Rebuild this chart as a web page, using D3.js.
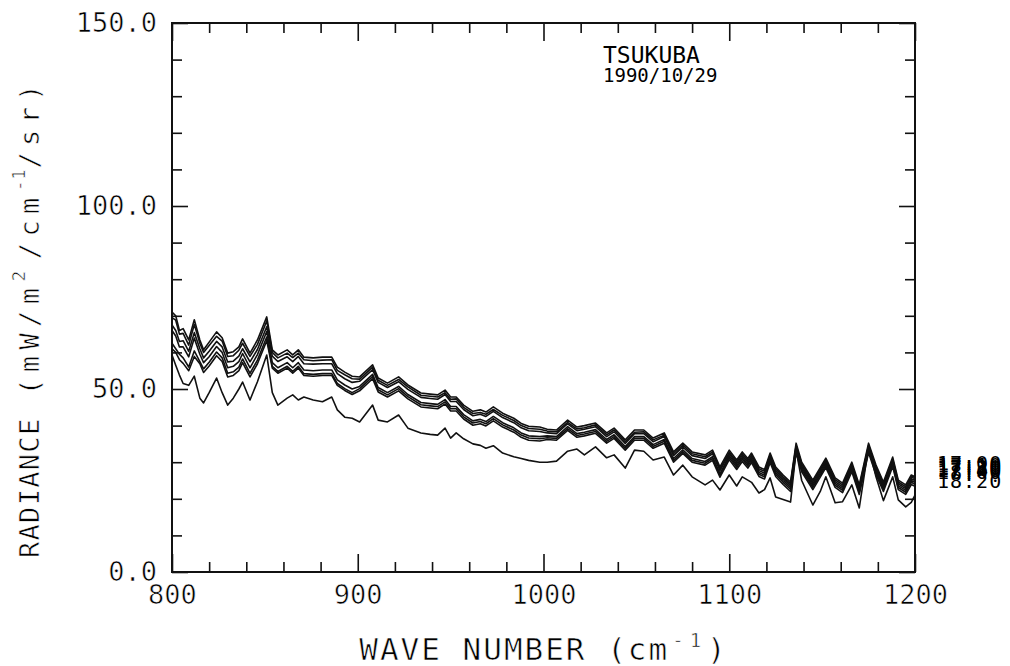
<!DOCTYPE html>
<html>
<head>
<meta charset="utf-8">
<script src="https://cdn.jsdelivr.net/npm/d3@7"></script>
<style>
  body { margin: 0; background: #fff; }
  svg text { font-family: "DejaVu Sans Mono", monospace; fill: #000; }
  /* thin pen-plotter look for the large lettering: a white outline trims the strokes */
  svg text.thin { stroke: #fff; stroke-width: 0.6px; paint-order: fill stroke; }
</style>
</head>
<body>
<svg id="chart" width="1010" height="666"></svg>
<script>
// Wave number grid (cm^-1) shared by every spectrum
const wavenumbers = [
  800, 802, 804, 806, 809, 812, 815, 817, 820, 824,
  827, 830, 833, 836, 838, 842, 846, 851, 854, 857,
  862, 865, 868, 871, 876, 881, 886, 889, 893, 897,
  901, 908, 911, 916, 922, 927, 934, 939, 943, 947,
  950, 953, 957, 962, 966, 969, 973, 978, 984, 988,
  992, 998, 1002, 1007, 1013, 1018, 1022, 1028, 1034, 1038,
  1044, 1049, 1054, 1059, 1065, 1070, 1075, 1080, 1087, 1091,
  1095, 1100, 1104, 1107, 1110, 1112, 1116, 1119, 1122, 1125,
  1129, 1133, 1136, 1139, 1145, 1149, 1152, 1157, 1161, 1166,
  1170, 1175, 1179, 1183, 1188, 1191, 1195, 1198, 1200
];

// Radiance spectra (mW/m^2/cm^-1/sr), one per observation time
const rad1700 = [
  71.0, 70.0, 66.0, 66.5, 63.4, 68.9, 63.4, 60.7, 62.8, 65.6,
  64.0, 59.8, 60.2, 61.5, 63.7, 59.8, 63.4, 69.7, 60.7, 59.3,
  60.7, 59.3, 60.7, 58.7, 58.5, 58.7, 58.7, 56.0, 54.6, 53.5,
  53.3, 56.6, 53.0, 51.6, 53.3, 51.1, 48.9, 48.6, 48.4, 49.7,
  47.8, 47.8, 45.6, 43.9, 44.3, 43.7, 45.1, 43.4, 42.0, 40.6,
  39.8, 39.6, 39.0, 38.8, 41.5, 39.6, 40.0, 40.7, 38.0, 39.3,
  36.1, 38.8, 38.8, 36.6, 38.0, 32.8, 35.2, 32.8, 32.0, 33.3,
  28.7, 33.3, 30.6, 32.8, 31.0, 32.5, 28.7, 28.0, 32.5, 28.7,
  26.5, 24.6, 35.2, 30.0, 25.1, 28.5, 31.1, 25.7, 24.3, 30.0,
  23.8, 35.2, 29.2, 24.6, 31.4, 25.1, 23.8, 26.5, 26.0
];
const rad1710 = [
  69.5, 68.8, 65.0, 65.2, 62.0, 67.6, 62.5, 60.0, 61.9, 64.4,
  63.1, 58.9, 59.1, 60.6, 62.5, 58.9, 62.2, 68.6, 60.0, 58.5,
  59.8, 58.6, 59.8, 58.0, 57.7, 57.9, 58.0, 55.1, 53.9, 52.8,
  52.7, 56.0, 52.4, 51.0, 52.6, 50.6, 48.3, 48.0, 47.8, 49.0,
  47.2, 47.3, 45.0, 43.3, 43.6, 43.1, 44.4, 42.8, 41.4, 40.0,
  39.2, 39.0, 38.5, 38.3, 40.9, 39.1, 39.4, 40.2, 37.5, 38.8,
  35.6, 38.2, 38.3, 36.1, 37.4, 32.3, 34.7, 32.3, 31.5, 32.8,
  28.2, 32.7, 30.1, 32.3, 30.5, 32.0, 28.2, 27.5, 32.0, 28.2,
  26.0, 24.1, 34.6, 29.5, 24.6, 28.0, 30.6, 25.2, 23.8, 29.4,
  23.3, 34.6, 28.7, 24.1, 30.8, 24.6, 23.3, 26.0, 25.5
];
const rad1720 = [
  67.5, 66.0, 63.0, 63.2, 60.3, 65.4, 61.0, 58.5, 60.3, 63.0,
  61.5, 57.4, 57.6, 59.0, 61.0, 57.4, 60.8, 67.0, 59.0, 57.5,
  58.8, 57.5, 58.9, 56.9, 56.8, 56.9, 56.9, 54.2, 52.8, 51.8,
  52.1, 55.3, 51.8, 50.4, 52.0, 49.9, 47.7, 47.4, 47.2, 48.5,
  46.6, 46.6, 44.4, 42.7, 43.1, 42.5, 43.9, 42.2, 40.8, 39.4,
  38.6, 38.4, 38.0, 37.8, 40.5, 38.6, 39.0, 39.7, 37.0, 38.3,
  35.1, 37.8, 37.8, 35.6, 37.0, 31.8, 34.2, 31.8, 31.0, 32.3,
  27.7, 32.3, 29.6, 31.8, 30.0, 31.5, 27.7, 27.0, 31.5, 27.7,
  25.5, 23.6, 34.2, 29.0, 24.1, 27.5, 30.1, 24.7, 23.3, 29.0,
  22.8, 34.2, 28.2, 23.6, 30.4, 24.1, 22.8, 25.5, 25.0
];
const rad1730 = [
  66.0, 64.5, 61.5, 61.5, 58.8, 63.9, 59.5, 57.2, 58.8, 61.6,
  60.0, 55.8, 56.2, 57.5, 59.7, 55.8, 59.4, 65.7, 57.2, 55.8,
  57.2, 55.8, 57.2, 55.2, 55.0, 55.2, 55.2, 52.5, 51.1, 50.0,
  50.7, 54.0, 50.4, 49.0, 50.7, 48.5, 46.3, 46.0, 45.8, 47.1,
  45.2, 45.2, 43.0, 41.3, 41.7, 41.1, 42.5, 40.8, 39.4, 38.0,
  37.2, 37.0, 37.2, 37.0, 39.7, 37.8, 38.2, 38.9, 36.2, 37.5,
  34.3, 37.0, 37.0, 34.8, 36.2, 31.0, 33.4, 31.0, 30.2, 31.5,
  26.9, 31.8, 29.1, 31.3, 29.5, 31.0, 27.2, 26.5, 31.0, 27.2,
  25.0, 23.1, 33.7, 28.5, 23.6, 27.0, 29.6, 24.2, 22.8, 28.5,
  22.3, 33.7, 27.7, 23.1, 29.9, 23.6, 22.3, 25.0, 24.5
];
const rad1740 = [
  62.5, 61.0, 59.5, 58.5, 56.0, 60.4, 57.5, 55.5, 57.3, 60.1,
  58.5, 54.3, 54.7, 56.0, 58.2, 54.3, 57.9, 64.2, 56.2, 54.8,
  56.2, 54.8, 56.2, 54.2, 54.0, 54.2, 54.2, 51.5, 50.1, 49.0,
  50.1, 53.4, 49.8, 48.4, 50.1, 47.9, 45.7, 45.4, 45.2, 46.5,
  44.6, 44.6, 42.4, 40.7, 41.1, 40.5, 41.9, 40.2, 38.8, 37.4,
  36.6, 36.4, 36.7, 36.5, 39.2, 37.3, 37.7, 38.4, 35.7, 37.0,
  33.8, 36.5, 36.5, 34.3, 35.7, 30.5, 32.9, 30.5, 29.7, 31.0,
  26.4, 31.3, 28.6, 30.8, 29.0, 30.5, 26.7, 26.0, 30.5, 26.7,
  24.5, 22.6, 33.2, 28.0, 23.1, 26.5, 29.1, 23.7, 22.3, 28.0,
  21.8, 33.2, 27.2, 22.6, 29.4, 23.1, 21.8, 24.5, 24.0
];
const rad1800 = [
  61.0, 60.0, 58.0, 57.0, 55.0, 58.9, 56.9, 54.5, 56.3, 59.1,
  57.5, 53.3, 53.7, 55.0, 57.2, 53.3, 56.9, 63.2, 55.7, 54.3,
  55.7, 54.3, 55.7, 53.7, 53.5, 53.7, 53.7, 51.0, 49.6, 48.5,
  49.5, 52.8, 49.2, 47.8, 49.5, 47.3, 45.1, 44.8, 44.6, 45.9,
  44.0, 44.0, 41.8, 40.1, 40.5, 39.9, 41.3, 39.6, 38.2, 36.8,
  36.0, 35.8, 36.2, 36.0, 38.7, 36.8, 37.2, 37.9, 35.2, 36.5,
  33.3, 36.0, 36.0, 33.8, 35.2, 30.0, 32.4, 30.0, 29.2, 30.5,
  25.9, 30.7, 28.0, 30.2, 28.4, 29.9, 26.1, 25.4, 29.9, 26.1,
  23.9, 22.0, 32.6, 27.4, 22.5, 25.9, 28.5, 23.1, 21.7, 27.4,
  21.2, 32.6, 26.6, 22.0, 28.8, 22.5, 21.2, 23.9, 23.4
];
const rad1820 = [
  59.3, 56.5, 53.8, 51.5, 51.0, 53.5, 47.5, 46.2, 49.0, 53.0,
  49.0, 45.6, 47.5, 50.0, 51.9, 47.0, 52.0, 59.3, 49.0, 45.6,
  47.5, 48.4, 47.0, 47.8, 47.0, 46.5, 47.8, 44.3, 42.3, 42.0,
  41.0, 45.6, 41.5, 41.0, 42.9, 39.3, 38.0, 37.6, 37.4, 39.3,
  36.6, 38.0, 36.4, 35.0, 34.6, 33.8, 34.5, 32.5, 31.5, 31.0,
  30.5, 30.0, 30.0, 30.3, 33.0, 33.6, 32.0, 34.2, 31.2, 32.0,
  28.4, 33.3, 33.0, 30.6, 31.4, 26.5, 29.2, 26.0, 23.8, 25.1,
  22.4, 26.5, 23.5, 26.0, 25.1, 24.5, 21.6, 22.5, 25.7, 20.5,
  19.8, 19.1, 33.3, 25.0, 18.3, 22.0, 26.0, 18.9, 19.2, 23.8,
  17.5, 34.2, 26.0, 19.5, 26.0, 19.7, 17.8, 19.0, 21.0
];

const spectra = [rad1700, rad1710, rad1720, rad1730, rad1740, rad1800, rad1820];
const timeLabels = ["17:00", "17:10", "17:20", "17:30", "17:40", "18:00", "18:20"];

// Axis ticks
const xTicks = d3.range(800, 1201, 20);
const xMajor = [800, 900, 1000, 1100, 1200];
const yTicks = d3.range(0, 151, 10);
const yMajor = [0, 50, 100, 150];

const svg = d3.select("#chart");
const plot = { left: 172, right: 915, top: 23, bottom: 572 };

const x = d3.scaleLinear().domain([800, 1200]).range([plot.left, plot.right]);
const y = d3.scaleLinear().domain([0, 150]).range([plot.bottom, plot.top]);

// Inward ticks on all four sides; longer ticks at the labelled values
function styleTicks(g, majors, longLen, axisDir) {
  g.select(".domain").remove();
  g.selectAll(".tick line")
    .attr("stroke", "#111")
    .attr("stroke-width", 1.6)
    .each(function (d) {
      const len = majors.includes(d) ? longLen : 10;
      const sel = d3.select(this);
      if (axisDir === "x") sel.attr("y2", sel.attr("y2") < 0 ? -len : len);
      else sel.attr("x2", sel.attr("x2") < 0 ? -len : len);
    });
  g.selectAll(".tick text").attr("class", "thin").style("font-size", "27px").attr("fill", "#000");
}

svg.append("g")
  .attr("transform", `translate(0,${plot.bottom})`)
  .call(d3.axisBottom(x).tickValues(xTicks).tickSizeInner(-10).tickSizeOuter(0).tickPadding(13)
    .tickFormat(d => xMajor.includes(d) ? d3.format("d")(d) : ""))
  .call(g => styleTicks(g, xMajor, 18, "x"));

svg.append("g")
  .attr("transform", `translate(0,${plot.top})`)
  .call(d3.axisTop(x).tickValues(xTicks).tickSizeInner(-10).tickSizeOuter(0).tickFormat(""))
  .call(g => styleTicks(g, xMajor, 18, "x"));

svg.append("g")
  .attr("transform", `translate(${plot.left},0)`)
  .call(d3.axisLeft(y).tickValues(yTicks).tickSizeInner(-10).tickSizeOuter(0).tickPadding(15)
    .tickFormat(d => yMajor.includes(d) ? d3.format(".1f")(d) : ""))
  .call(g => styleTicks(g, yMajor, 16, "y"));

svg.append("g")
  .attr("transform", `translate(${plot.right},0)`)
  .call(d3.axisRight(y).tickValues(yTicks).tickSizeInner(-10).tickSizeOuter(0).tickFormat(""))
  .call(g => styleTicks(g, yMajor, 16, "y"));

// Frame
svg.append("rect")
  .attr("x", plot.left).attr("y", plot.top)
  .attr("width", plot.right - plot.left).attr("height", plot.bottom - plot.top)
  .attr("fill", "none").attr("stroke", "#111").attr("stroke-width", 2);

// Spectra
const line = d3.line()
  .x((d, i) => x(wavenumbers[i]))
  .y(d => y(d));

svg.append("g")
  .selectAll("path")
  .data(spectra)
  .join("path")
  .attr("d", line)
  .attr("fill", "none")
  .attr("stroke", "#111")
  .attr("stroke-width", 1.6)
  .attr("stroke-linejoin", "round");

// Time labels at the right end of each spectrum
svg.append("g")
  .selectAll("text")
  .data(spectra)
  .join("text")
  .attr("x", plot.right + 22)
  .attr("y", d => y(d[d.length - 1]) - 14)
  .attr("dominant-baseline", "central")
  .style("font-size", "20px")
  .style("letter-spacing", "1px")
  .text((d, i) => timeLabels[i]);

// Site and date
svg.append("text")
  .attr("x", 603).attr("y", 63)
  .style("font-size", "23px")
  .text("TSUKUBA");
svg.append("text")
  .attr("x", 603).attr("y", 82)
  .style("font-size", "19px")
  .text("1990/10/29");

// X axis title
const xt = svg.append("text")
  .attr("class", "thin")
  .attr("x", (plot.left + plot.right) / 2)
  .attr("y", 660)
  .attr("text-anchor", "middle")
  .style("font-size", "31px")
  .style("letter-spacing", "2px");
xt.append("tspan").text("WAVE NUMBER  (c");
xt.append("tspan").style("letter-spacing", "5px").text("m");
xt.append("tspan").attr("dy", -13).style("font-size", "19px").style("letter-spacing", "6px").text("-1");
xt.append("tspan").attr("dy", 13).text(")");

// Y axis title, reading upward from the bottom
const yt = svg.append("text")
  .attr("class", "thin")
  .attr("transform", `translate(29,558) rotate(-90)`)
  .attr("text-anchor", "start")
  .attr("dominant-baseline", "central")
  .style("font-size", "27px");
yt.append("tspan").style("letter-spacing", "1.3px").text("RADIANCE");
yt.append("tspan").style("letter-spacing", "6.4px").text(" (mW/m");
yt.append("tspan").attr("dy", -11).style("font-size", "18px").style("letter-spacing", "11.5px").text("2");
yt.append("tspan").attr("dy", 11).style("letter-spacing", "6.4px").text("/cm");
yt.append("tspan").attr("dy", -11).style("font-size", "18px").style("letter-spacing", "0.5px").text("-1");
yt.append("tspan").attr("dy", 11).style("letter-spacing", "6.4px").text("/sr)");
</script>
</body>
</html>
